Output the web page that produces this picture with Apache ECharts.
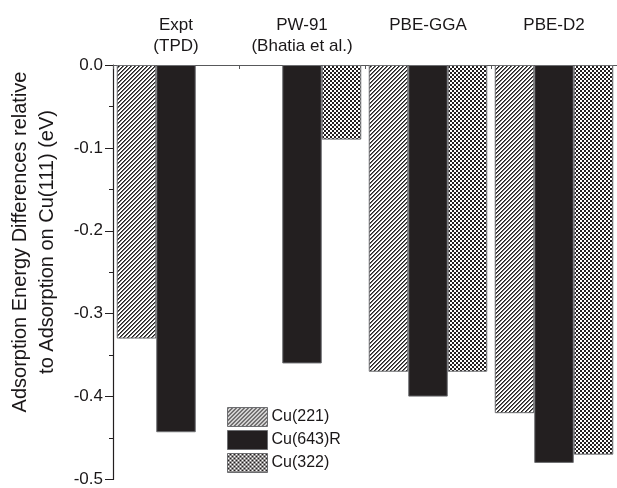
<!DOCTYPE html>
<html>
<head>
<meta charset="utf-8">
<script src="https://cdn.jsdelivr.net/npm/echarts@6/dist/echarts.min.js"></script>
<style>
html,body{margin:0;padding:0;background:#fff;}
#chart{width:617px;height:488px;}
</style>
</head>
<body>
<div id="chart"></div>
<script>
var categories = ['Expt\n(TPD)', 'PW-91\n(Bhatia et al.)', 'PBE-GGA', 'PBE-D2'];
var seriesNames = ['Cu(221)', 'Cu(643)R', 'Cu(322)'];
var cu221 = [-0.33, null, -0.37, -0.42];
var cu643R = [-0.443, -0.36, -0.40, -0.48];
var cu322 = [null, -0.09, -0.37, -0.47];
var yTicks = [0, -0.1, -0.2, -0.3, -0.4, -0.5];

function makePattern(kind) {
  var c = document.createElement('canvas');
  c.width = 4; c.height = 4;
  var ctx = c.getContext('2d');
  if (kind === 'diag') {
    ctx.fillStyle = '#ffffff';
    ctx.fillRect(0, 0, 4, 4);
    for (var x = 0; x < 4; x++) {
      for (var y = 0; y < 4; y++) {
        var k = (x + y) % 4;
        if (k === 0) { ctx.fillStyle = '#231f20'; ctx.fillRect(x, y, 1, 1); }
        else if (k === 1) { ctx.fillStyle = '#6a6a6a'; ctx.fillRect(x, y, 1, 1); }
      }
    }
  } else {
    ctx.fillStyle = '#231f20';
    ctx.fillRect(0, 0, 4, 4);
    ctx.fillStyle = '#ffffff';
    ctx.fillRect(0, 0, 2, 2);
    ctx.fillRect(2, 2, 2, 2);
  }
  return { image: c, repeat: 'repeat' };
}

var fills = [makePattern('diag'), '#231f20', makePattern('check')];
var dataSets = [cu221, cu643R, cu322];
var font = 'Liberation Sans, Arial, Helvetica, sans-serif';

var chart = echarts.init(document.getElementById('chart'), null, {renderer: 'canvas'});
var series = seriesNames.map(function (name, i) {
  return {
    name: name,
    type: 'bar',
    barWidth: 39.5,
    barGap: 0,
    data: dataSets[i].map(function (v) { return v === null ? '-' : v; }),
    itemStyle: { color: fills[i], borderColor: '#6d6e71', borderWidth: 1 }
  };
});

chart.setOption({
  animation: false,
  backgroundColor: '#ffffff',
  grid: { left: 113, top: 65, width: 513, height: 417.5, containLabel: false },
  xAxis: {
    type: 'category',
    position: 'top',
    data: categories,
    axisLine: { show: true, lineStyle: { color: '#58595b', width: 1.2 } },
    axisTick: { show: true, inside: true, length: 4, lineStyle: { color: '#58595b' } },
    axisLabel: {
      show: true, color: '#1a1718', fontFamily: font, fontSize: 17,
      lineHeight: 21, verticalAlign: 'top', margin: 50, interval: 0
    },
    splitLine: { show: false }
  },
  yAxis: {
    type: 'value',
    min: -0.5, max: 0, interval: 0.1,
    axisLine: { show: true, lineStyle: { color: '#231f20', width: 1.2 } },
    axisTick: { show: true, inside: false, length: 8, lineStyle: { color: '#231f20' } },
    minorTick: { show: true, splitNumber: 2, length: 4, lineStyle: { color: '#231f20' } },
    axisLabel: {
      color: '#1a1718', fontFamily: font, fontSize: 17, margin: 10,
      formatter: function (v) {
        for (var i = 0; i < yTicks.length; i++) {
          if (Math.abs(v - yTicks[i]) < 1e-9) return yTicks[i].toFixed(1);
        }
        return '';
      }
    },
    splitLine: { show: false }
  },
  legend: {
    orient: 'vertical',
    left: 227, top: 407,
    padding: 0,
    itemWidth: 40, itemHeight: 19, itemGap: 3,
    icon: 'rect',
    data: seriesNames,
    textStyle: { color: '#1a1718', fontFamily: font, fontSize: 16, padding: [0, 0, 0, -1] },
    itemStyle: { borderColor: '#6d6e71', borderWidth: 1 }
  },
  graphic: [{
    type: 'text',
    x: 34, y: 242,
    rotation: Math.PI / 2,
    style: {
      text: 'Adsorption Energy Differences relative\nto Adsorption on Cu(111) (eV)',
      fontFamily: font, fontSize: 20, lineHeight: 27,
      fill: '#1a1718', align: 'center', verticalAlign: 'middle'
    }
  }],
  series: series
});
</script>
</body>
</html>
